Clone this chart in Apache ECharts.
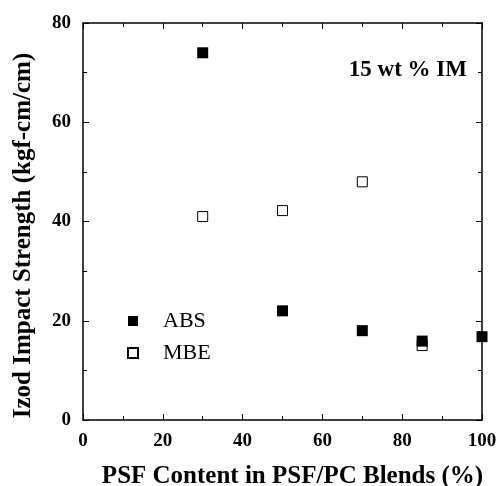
<!DOCTYPE html>
<html><head><meta charset="utf-8">
<script src="https://cdn.jsdelivr.net/npm/echarts@6/dist/echarts.min.js"></script>
<style>html,body{margin:0;padding:0;background:#fff;}#c{width:498px;height:486px;}</style>
</head><body><div id="c"></div>
<script>
const xValues = [30, 50, 70, 85, 100];
const absValues = [74, 22, 18, 15.9, 16.8];
const mbeX = [30, 50, 70, 85];
const mbeValues = [41, 42.2, 48, 15];
const annotation = '15 wt % IM';
const xTitle = 'PSF Content in PSF/PC Blends (%)';
const yTitle = 'Izod Impact Strength (kgf-cm/cm)';
const FONT = '"Liberation Serif", "Times New Roman", serif';

const chart = echarts.init(document.getElementById('c'));
const axisCommon = {
  axisLine: {show: true, onZero: false, lineStyle: {color: '#000', width: 1.5}},
  axisTick: {show: true, inside: true, length: 6, lineStyle: {color: '#000', width: 1}},
  minorTick: {show: true, splitNumber: 2, length: 4, lineStyle: {color: '#000', width: 1}},
  splitLine: {show: false}
};
chart.setOption({
  backgroundColor: '#fff',
  animation: false,
  title: {text: annotation, right: 26, top: 54,
    textStyle: {fontFamily: FONT, fontWeight: 'bold', fontSize: 23, color: '#000'}},
  legend: {orient: 'vertical', left: 122, top: 305, itemWidth: 10, itemHeight: 10, itemGap: 10,
    icon: 'rect',
    textStyle: {fontFamily: FONT, fontSize: 22, lineHeight: 20, color: '#000', padding: [0, 0, 0, 20]},
    data: ['ABS', 'MBE']},
  grid: {left: 83, right: 16, top: 23, bottom: 66, containLabel: false, outerBoundsMode: 'none'},
  xAxis: [
    Object.assign({type: 'value', min: 0, max: 100, interval: 20, position: 'bottom',
      name: xTitle, nameLocation: 'middle', nameGap: 44,
      nameTextStyle: {fontFamily: FONT, fontWeight: 'bold', fontSize: 25, color: '#000', padding: [0, 0, 0, 20]},
      axisLabel: {margin: 12, fontFamily: FONT, fontWeight: 'bold', fontSize: 19, color: '#000'}}, axisCommon),
    Object.assign({type: 'value', min: 0, max: 100, interval: 20, position: 'top',
      axisLabel: {show: false}}, axisCommon)
  ],
  yAxis: [
    Object.assign({type: 'value', min: 0, max: 80, interval: 20, position: 'left',
      name: yTitle, nameLocation: 'middle', nameGap: 47,
      nameTextStyle: {fontFamily: FONT, fontWeight: 'bold', fontSize: 25, color: '#000', padding: [0, 28, 0, 0]},
      axisLabel: {margin: 12, fontFamily: FONT, fontWeight: 'bold', fontSize: 19, color: '#000'}}, axisCommon),
    Object.assign({type: 'value', min: 0, max: 80, interval: 20, position: 'right',
      axisLabel: {show: false}}, axisCommon)
  ],
  series: [
    {name: 'MBE', type: 'scatter', symbol: 'rect', symbolSize: 10,
      itemStyle: {color: '#fff', borderColor: '#000', borderWidth: 1, opacity: 1},
      data: mbeX.map((x, i) => [x, mbeValues[i]])},
    {name: 'ABS', type: 'scatter', symbol: 'rect', symbolSize: 11,
      itemStyle: {color: '#000', opacity: 1},
      data: xValues.map((x, i) => [x, absValues[i]])}
  ]
});
</script></body></html>
